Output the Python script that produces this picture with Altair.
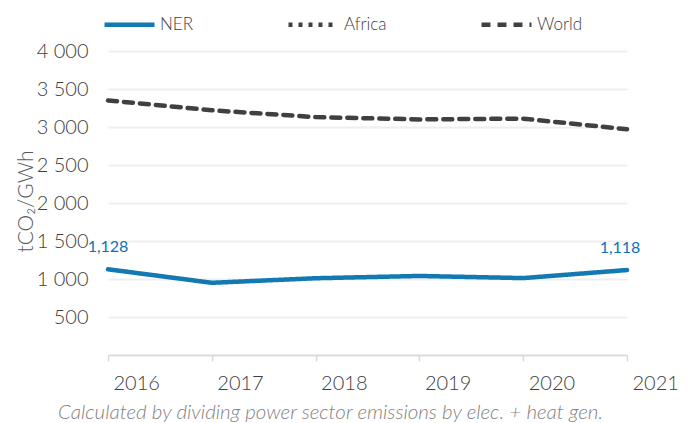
import altair as alt
import pandas as pd

years = [2016, 2017, 2018, 2019, 2020, 2021]
ner = [1128, 950, 1010, 1040, 1012, 1118]
world = [3350, 3220, 3130, 3100, 3110, 2970]
series_names = ["NER", "Africa", "World"]
series_colors = ["#1379b3", "#404040", "#404040"]
series_dash = [[1, 0], [4, 6], [9, 7]]
y_ticks = [0, 500, 1000, 1500, 2000, 2500, 3000, 3500, 4000]
footnote = "Calculated by dividing power sector emissions by elec. + heat gen."

rows = []
for y, v in zip(years, ner):
    rows.append({"year": y, "series": "NER", "value": v})
for y, v in zip(years, world):
    rows.append({"year": y, "series": "World", "value": v})
df = pd.DataFrame(rows)

lab = pd.DataFrame({
    "year": [years[0], years[-1]],
    "value": [ner[0], ner[-1]],
    "label": [f"{ner[0]:,}", f"{ner[-1]:,}"],
})

FONT = "Lato"

x_enc = alt.X("year:O", scale=alt.Scale(type="point", padding=0),
              axis=alt.Axis(title=footnote, labelAngle=0, labelAlign="left", labelOffset=5,
                            labelFontSize=20, labelColor="#404040", labelPadding=12,
                            tickSize=6, tickColor="#d9d9d9", domainColor="#d9d9d9",
                            domainWidth=1.5, tickWidth=1.5, grid=False,
                            titleFontSize=20.5, titleFontStyle="italic", titleColor="#7f7f7f",
                            titleFontWeight=300, titlePadding=9, titleX=222, titleAlign="center",
                            labelFontWeight=300))
y_enc = alt.Y("value:Q", scale=alt.Scale(domain=[0, 4000], nice=False),
              axis=alt.Axis(title="tCO₂/GWh", values=y_ticks,
                            labelExpr="datum.value == 0 ? '' : replace(format(datum.value, ','), ',', ' ')",
                            labelOverlap=False,
                            labelFontSize=20, labelColor="#404040", labelPadding=20, labelFontWeight=300,
                            ticks=False, domain=False, gridColor="#efefef", gridWidth=2,
                            titleFontSize=21, titleColor="#595959", titleFontWeight=300,
                            titleX=-72, titleY=150, titleAlign="center"))

leg = dict(title=None, orient="none", legendX=-6, legendY=-54,
           direction="horizontal", symbolType="stroke",
           symbolSize=2500, symbolStrokeWidth=4.5,
           labelFontSize=17, labelColor="#404040", labelFontWeight=300,
           labelOffset=3, columnPadding=85)

lines = alt.Chart(df).mark_line(strokeWidth=4.5, strokeCap="round").encode(
    x=x_enc,
    y=y_enc,
    color=alt.Color("series:N", scale=alt.Scale(domain=series_names, range=series_colors),
                    legend=alt.Legend(**leg)),
    strokeDash=alt.StrokeDash("series:N", scale=alt.Scale(domain=series_names, range=series_dash),
                              legend=alt.Legend(**leg)),
)

text1 = alt.Chart(lab.iloc[[0]]).mark_text(fontSize=16, color="#0b6fbd", baseline="bottom",
                                           dy=-14, font=FONT).encode(
    x=x_enc, y=y_enc, text="label:N")
text2 = alt.Chart(lab.iloc[[1]]).mark_text(fontSize=16, color="#0b6fbd", baseline="bottom",
                                           dy=-14, dx=-7, font=FONT).encode(
    x=x_enc, y=y_enc, text="label:N")

chart = alt.layer(lines, text1, text2).properties(
    width=519, height=304,
    autosize=alt.AutoSizeParams(type="none"),
    padding={"left": 100, "top": 43, "right": 60, "bottom": 60},
).configure(font=FONT).configure_view(stroke=None)

chart = chart.properties(padding={"left": 100, "top": 43, "right": 60, "bottom": 68})

chart.save("out.html", embed_options={"renderer": "svg", "actions": False})
